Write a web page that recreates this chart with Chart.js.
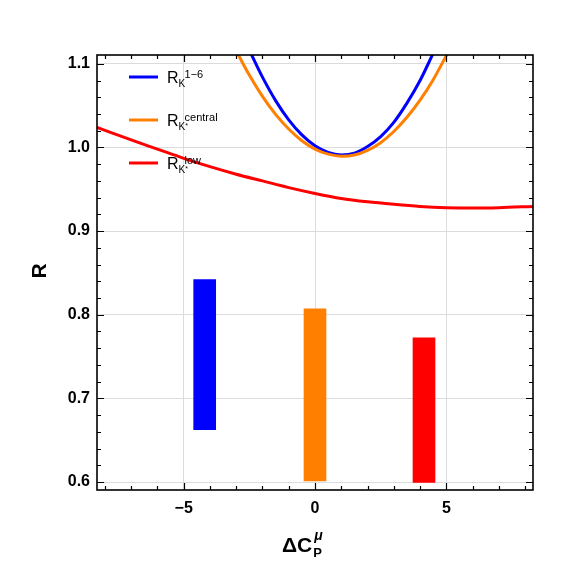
<!DOCTYPE html>
<html>
<head>
<meta charset="utf-8">
<script src="https://cdn.jsdelivr.net/npm/chart.js"></script>
<style>
body{margin:0;background:#fff;}
#caja{width:563px;height:567px;}
</style>
</head>
<body>
<div id="caja"><canvas id="grafico" width="563" height="567"></canvas></div>
<script>
// ticks
const xTicks = [-5, 0, 5];
const xMinor = [-8,-7,-6,-4,-3,-2,-1,1,2,3,4,6,7,8];
const yTicks = [0.6, 0.7, 0.8, 0.9, 1.0, 1.1];
const yMinor = [0.62,0.64,0.66,0.68,0.72,0.74,0.76,0.78,0.82,0.84,0.86,0.88,0.92,0.94,0.96,0.98,1.02,1.04,1.06,1.08];

// curvas
const xAzul = [-2.45,-2,-1.5,-1,-0.5,0,0.5,1,1.5,2,2.5,3,3.5,4,4.5];
const yAzul = [1.113,1.084,1.056,1.033,1.015,1.002,0.994,0.991,0.993,1.001,1.013,1.030,1.053,1.080,1.1126];

const xNaranja = [-2.95,-2.5,-2,-1.5,-1,-0.5,0,0.5,1,1.5,2,2.5,3,3.5,4,4.5,5.05];
const yNaranja = [1.1125,1.0865,1.061,1.0395,1.022,1.008,0.998,0.992,0.9895,0.991,0.9965,1.0057,1.019,1.036,1.0565,1.081,1.1127];

const xRojo = [-8.3,-7,-6,-5,-4,-3,-2,-1,0,1,2,3,4,5,6,7,8.3];
const yRojo = [1.024,1.009,0.998,0.987,0.977,0.968,0.960,0.952,0.945,0.939,0.935,0.932,0.9295,0.928,0.9275,0.928,0.9295];

// barras
const barX = [-4.2, 0, 4.15];
const barBajo = [0.6625, 0.6013, 0.5996];
const barAlto = [0.842, 0.807, 0.7724];

const colores = ['#0000ff', '#ff7f00', '#ff0000'];
const leyendaSub = ['K', 'K*', 'K*'];
const leyendaSup = ['1\u22126', 'central', 'low'];

function puntos(xs, ys){
    let r = [];
    for(let i=0;i<xs.length;i++){
        r.push({x: xs[i], y: ys[i]});
    }
    return r;
}

function curva(xs, ys, color){
    return {
        type: 'line',
        data: puntos(xs, ys),
        borderColor: color,
        borderWidth: 3,
        pointRadius: 0,
        fill: false,
        cubicInterpolationMode: 'monotone'
    };
}

function barra(i){
    return {
        type: 'bar',
        data: [{x: barX[i], y: [barBajo[i], barAlto[i]]}],
        backgroundColor: colores[i],
        borderWidth: 0,
        barThickness: 22,
        grouped: false
    };
}

const FUENTE = '"Liberation Sans", Arial, sans-serif';

// marco, ticks hacia dentro, leyenda y titulos
const extras = {
    id: 'extras',
    afterDatasetsDraw(chart){
        const ctx = chart.ctx;
        const a = chart.chartArea;
        const x = chart.scales.x;
        const y = chart.scales.y;
        ctx.save();
        ctx.strokeStyle = '#000';
        ctx.lineWidth = 1.2;
        ctx.beginPath();
        function marcaX(v, largo){
            let px = Math.round(x.getPixelForValue(v)) + 0.5;
            ctx.moveTo(px, a.bottom); ctx.lineTo(px, a.bottom - largo);
            ctx.moveTo(px, a.top); ctx.lineTo(px, a.top + largo);
        }
        function marcaY(v, largo){
            let py = Math.round(y.getPixelForValue(v)) + 0.5;
            ctx.moveTo(a.left, py); ctx.lineTo(a.left + largo, py);
            ctx.moveTo(a.right, py); ctx.lineTo(a.right - largo, py);
        }
        xTicks.forEach(v => marcaX(v, 7));
        xMinor.forEach(v => marcaX(v, 4));
        yTicks.forEach(v => marcaY(v, 7));
        yMinor.forEach(v => marcaY(v, 4));
        ctx.stroke();
        ctx.lineWidth = 1.6;
        ctx.strokeRect(a.left, a.top, a.right - a.left, a.bottom - a.top);

        // leyenda
        const filas = [77, 120, 163];
        for(let i=0;i<3;i++){
            ctx.strokeStyle = colores[i];
            ctx.lineWidth = 3;
            ctx.beginPath();
            ctx.moveTo(129, filas[i]);
            ctx.lineTo(158, filas[i]);
            ctx.stroke();
            ctx.fillStyle = '#000';
            ctx.textBaseline = 'alphabetic';
            ctx.textAlign = 'left';
            ctx.font = '16px ' + FUENTE;
            ctx.fillText('R', 167, filas[i] + 6);
            let w = ctx.measureText('R').width;
            ctx.font = '10px ' + FUENTE;
            ctx.fillText('K', 167 + w, filas[i] + 10);
            if(leyendaSub[i] == 'K*'){
                let wk = ctx.measureText('K').width;
                ctx.font = '7px ' + FUENTE;
                ctx.fillText('*', 167 + w + wk, filas[i] + 8);
            }
            ctx.font = '11px ' + FUENTE;
            ctx.fillText(leyendaSup[i], 167 + w + 6, filas[i] + 1);
        }

        // titulo eje y
        ctx.fillStyle = '#000';
        ctx.font = 'bold 21px ' + FUENTE;
        ctx.save();
        ctx.translate(40, 271);
        ctx.rotate(-Math.PI/2);
        ctx.textAlign = 'center';
        ctx.textBaseline = 'middle';
        ctx.fillText('R', 0, 0);
        ctx.restore();

        // titulo eje x
        ctx.textAlign = 'left';
        ctx.textBaseline = 'alphabetic';
        ctx.font = 'bold 21px ' + FUENTE;
        ctx.fillText('\u0394C', 282, 552);
        let wc = ctx.measureText('\u0394C').width;
        ctx.font = 'bold 13px ' + FUENTE;
        ctx.fillText('P', 282 + wc + 1, 557);
        ctx.font = 'italic bold 14px ' + FUENTE;
        ctx.fillText('\u03bc', 282 + wc + 2, 540);
        ctx.restore();
    }
};

function dibujar(){
    const ctx = document.getElementById('grafico').getContext('2d');
    const chart = new Chart(ctx, {
        type: 'line',
        data: {
            datasets: [
                barra(0), barra(1), barra(2),
                curva(xRojo, yRojo, colores[2]),
                curva(xNaranja, yNaranja, colores[1]),
                curva(xAzul, yAzul, colores[0])
            ]
        },
        options: {
            responsive: false,
            animation: false,
            events: [],
            layout: { padding: { top: 55, right: 30, left: 0, bottom: 0 } },
            plugins: {
                legend: { display: false },
                tooltip: { enabled: false }
            },
            scales: {
                x: {
                    type: 'linear',
                    min: -8.3,
                    max: 8.3,
                    offset: false,
                    afterBuildTicks: s => { s.ticks = xTicks.map(v => ({value: v})); },
                    afterFit: s => { s.height = 77; },
                    grid: { color: '#dcdcdc', lineWidth: 1, drawTicks: false, offset: false },
                    border: { display: false },
                    ticks: {
                        padding: 9,
                        color: '#000',
                        font: { family: FUENTE, size: 16, weight: 'bold' },
                        callback: v => v < 0 ? '\u2212' + Math.abs(v) : String(v)
                    }
                },
                y: {
                    type: 'linear',
                    min: 0.5905,
                    max: 1.1105,
                    afterBuildTicks: s => { s.ticks = yTicks.map(v => ({value: v})); },
                    afterFit: s => { s.width = 97; },
                    grid: { color: '#dcdcdc', lineWidth: 1, drawTicks: false, offset: false },
                    border: { display: false },
                    ticks: {
                        padding: 7,
                        color: '#000',
                        font: { family: FUENTE, size: 16, weight: 'bold' },
                        callback: v => v.toFixed(1)
                    }
                }
            }
        },
        plugins: [extras]
    });
}

window.addEventListener('load', dibujar);
</script>
</body>
</html>
